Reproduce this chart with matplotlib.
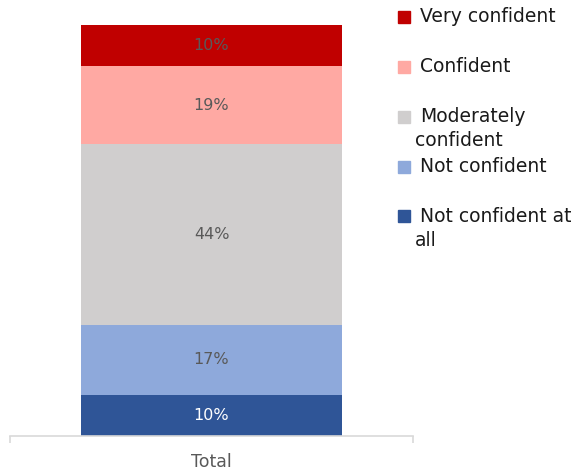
import matplotlib
matplotlib.use("Agg")
import matplotlib.pyplot as plt
from matplotlib.patches import Rectangle

categories = ["Total"]
series_names = ["Not confident at all", "Not confident", "Moderately confident", "Confident", "Very confident"]
legend_labels = ["Not confident at\nall", "Not confident", "Moderately\nconfident", "Confident", "Very confident"]
values = [10, 17, 44, 19, 10]
colors = ["#2F5597", "#8EA9DB", "#D0CECE", "#FFA9A3", "#C00000"]
label_colors = ["white", "#595959", "#595959", "#595959", "#595959"]

plt.rcParams['font.family'] = ['DejaVu Sans']
W, H = 586, 471
fig = plt.figure(figsize=(W / 100, H / 100), dpi=100)
ax = fig.add_axes([10 / W, 35 / H, 403 / W, 411 / H])

bottom = 0
for v, c, lc in zip(values, colors, label_colors):
    ax.bar(0, v, width=0.648, bottom=bottom, color=c, edgecolor='none')
    ax.text(0, bottom + v / 2, f"{v}%", ha='center', va='center', color=lc, fontsize=11.5)
    bottom += v

ax.set_xlim(-0.5, 0.5)
ax.set_ylim(0, 100)
for s in ['top', 'left', 'right']:
    ax.spines[s].set_visible(False)
ax.spines['bottom'].set_color('#D9D9D9')
ax.spines['bottom'].set_linewidth(1.2)
ax.set_yticks([])
ax.set_xticks([-0.5, 0.5])
ax.set_xticklabels([])
ax.tick_params(axis='x', which='major', length=5, color='#D9D9D9', width=1.2)
ax.set_xticks([0], minor=True)
ax.set_xticklabels(categories, minor=True, fontsize=12.5, color='#595959')
ax.tick_params(axis='x', which='minor', length=0, pad=12)

# legend drawn manually (top to bottom)
sq_y = [11, 61, 111, 161, 210]
order = list(range(len(values)))[::-1]
for i, idx in enumerate(order):
    y0 = sq_y[i]
    fig.patches.append(Rectangle((398 / W, 1 - (y0 + 12) / H), 12 / W, 12 / H,
                                 transform=fig.transFigure, color=colors[idx], figure=fig))
    lab = legend_labels[idx]
    lines = lab.split("\n")
    fig.text(420 / W, 1 - (y0 + 6) / H, lines[0], ha='left', va='center',
             fontsize=13.5, color='#1a1a1a')
    if len(lines) > 1:
        fig.text(415 / W, 1 - (y0 + 30) / H, lines[1], ha='left', va='center',
                 fontsize=13.5, color='#1a1a1a')

fig.savefig("out.png", dpi=100)
